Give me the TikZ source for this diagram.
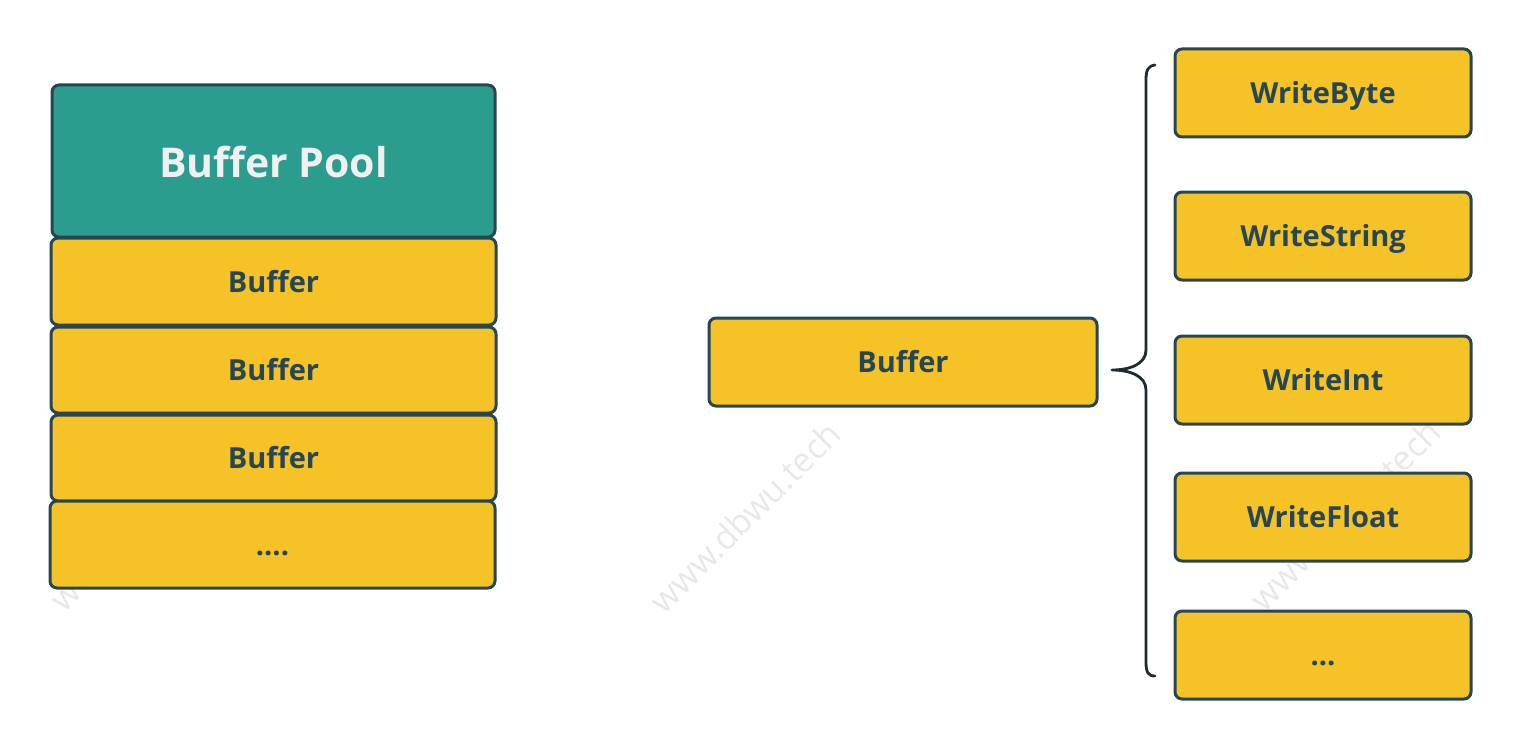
\documentclass[tikz,border=0pt]{standalone}
\usepackage{fontspec}
\setmainfont{Open Sans}
\definecolor{teal}{HTML}{2A9D8F}
\definecolor{gold}{HTML}{F5C327}
\definecolor{slate}{HTML}{264653}
\definecolor{bracecol}{HTML}{1E2B33}
\definecolor{wm}{HTML}{E8E8E8}
\begin{document}
\begin{tikzpicture}[x=0.5pt,y=-0.5pt,
  box/.style={draw=slate,line width=1.5pt,rounded corners=3.5pt,fill=gold,
    text=slate,font=\bfseries\fontsize{14.5}{16}\selectfont,inner sep=0pt,
    text height=10.5pt,text depth=0pt},
  pool/.style={box,fill=teal,text=white!94!black,font=\bfseries\fontsize{20.5}{24}\selectfont,
    text height=16pt},
  rbox/.style={box,minimum width=148pt,minimum height=44pt},
  wmark/.style={text=wm,font=\fontsize{17}{20}\selectfont,rotate=45}]
\useasboundingbox (0,0) rectangle (1520,749);
% watermarks
\node[wmark] (w1) at (145,515) {www.dbwu.tech};
\node[wmark] (w2) at (745,517) {www.dbwu.tech};
\node[wmark] (w3) at (1345,515) {www.dbwu.tech};
% left stack
\node[pool,minimum width=221.5pt,minimum height=76pt] (pool) at (273.5,161) {Buffer Pool};
\node[box,minimum width=222.5pt,minimum height=43.5pt] (b1) at (273.5,281.5) {Buffer};
\node[box,minimum width=222.5pt,minimum height=43pt] (b2) at (273.5,370) {Buffer};
\node[box,minimum width=222.5pt,minimum height=43pt] (b3) at (273.5,458) {Buffer};
\node[box,minimum width=222.5pt,minimum height=43.5pt] (b4) at (272.5,544.5) {....};
% middle
\node[box,minimum width=194pt,minimum height=44pt] (buf) at (903,362) {Buffer};
% right column
\node[rbox] (r1) at (1323,93) {WriteByte};
\node[rbox] (r2) at (1323,236) {WriteString};
\node[rbox] (r3) at (1323,380) {WriteInt};
\node[rbox] (r4) at (1323,517) {WriteFloat};
\node[rbox] (r5) at (1323,655) {...};
% brace
\coordinate (tip) at (1112,370);
\coordinate (top) at (1155,65);
\coordinate (bot) at (1155,676);
\draw[bracecol,line width=1.4pt,line cap=round,line join=round]
  (top) .. controls (1148,66) and (1146,70) .. (1146,80)
  -- (1146,350) .. controls (1146,364) and (1130,370) .. (tip)
  .. controls (1130,370) and (1146,376) .. (1146,390)
  -- (1146,662) .. controls (1146,672) and (1148,676) .. (bot);
\end{tikzpicture}
\end{document}
